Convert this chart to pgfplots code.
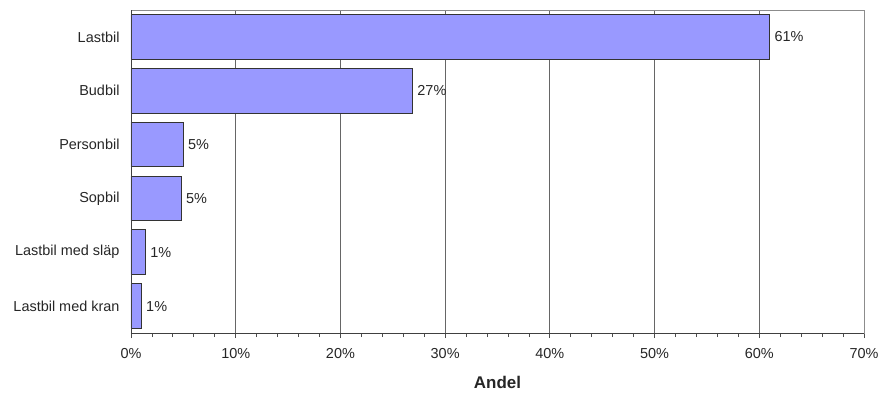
\documentclass[border=0pt]{standalone}
\usepackage{pgfplots}
\pgfplotsset{compat=1.18}
\usepackage{fontspec}
\setmainfont{Liberation Sans}
\definecolor{barfill}{HTML}{9999FF}
\definecolor{bardraw}{HTML}{333333}
\begin{document}
\begin{tikzpicture}[x=1bp,y=1bp]
\begin{axis}[
  name=ax,
  scale only axis,
  width=733bp, height=323bp,
  xbar, bar width=0.83,
  xmin=0, xmax=70,
  ymin=-0.5, ymax=5.5,
  y dir=reverse,
  ytick={0,1,2,3,4,5},
  yticklabels={Lastbil,Budbil,Personbil,Sopbil,Lastbil med släp,Lastbil med kran},
  ytick style={draw=none},
  xtick={0,10,...,70},
  minor x tick num=4,
  xticklabel={\pgfmathprintnumber{\tick}\%},
  xtick pos=bottom,
  tick align=outside,
  major tick length=5bp, minor tick length=4bp,
  xmajorgrids, major grid style={draw=black!60, line width=0.8pt},
  axis line style={draw=black!45, line width=0.8pt},
  tick style={draw=black!70, line width=0.8pt},
  /pgf/number format/assume math mode=true,
  ticklabel style={font=\fontsize{14.5}{16}\selectfont, color=black!85},
  xticklabel style={yshift=-7bp},
  yticklabel style={xshift=-3bp},
  xlabel={\textbf{Andel}},
  xlabel style={font=\fontsize{17}{19}\selectfont\bfseries, color=black!85, yshift=-11bp},
  nodes near coords={\pgfmathprintnumber[fixed,precision=0]{\pgfplotspointmeta}\%},
  nodes near coords style={font=\fontsize{14.5}{16}\selectfont, color=black!85, anchor=west, xshift=1bp},
  point meta=explicit,
  clip=false,
]
\addplot[fill=barfill, draw=bardraw, line width=0.9pt] coordinates {
  (61.0,0) [61.0]
  (26.9,1) [26.9]
  (5.0,2) [5.0]
  (4.8,3) [4.8]
  (1.4,4) [1.4]
  (1.0,5) [1.0]
};
\draw[black!75, line width=0.9pt] (rel axis cs:0,0) -- (rel axis cs:1,0);
\draw[black!75, line width=0.9pt] (rel axis cs:0,0) -- (rel axis cs:0,1);
\end{axis}
\path (ax.south west) ++(-131bp,-61bp) rectangle ([shift={(22bp,10bp)}]ax.north east);
\end{tikzpicture}
\end{document}
